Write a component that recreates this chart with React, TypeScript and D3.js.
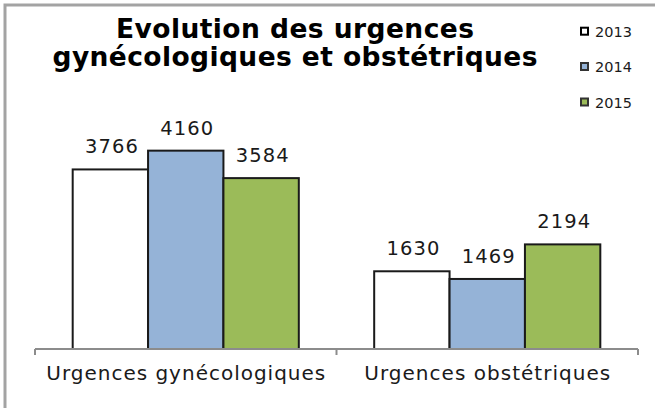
import React from "react";
import * as d3 from "d3";

const categories = ["Urgences gynécologiques", "Urgences obstétriques"];
const series = ["2013", "2014", "2015"];
const values2013 = [3766, 1630];
const values2014 = [4160, 1469];
const values2015 = [3584, 2194];
const seriesValues = [values2013, values2014, values2015];
const colors = ["#ffffff", "#95b3d7", "#9bbb59"];
const titleLines = ["Evolution des urgences", "gynécologiques et obstétriques"];

const W = 655;
const H = 408;

export default function App() {
  const baseY = 349;
  const y = d3.scaleLinear().domain([0, 5000]).range([baseY, baseY - 238.4]);
  const x0 = d3.scaleBand<string>().domain(categories).range([35, 638]).paddingInner(0).paddingOuter(0);
  const bw = x0.bandwidth();
  const side = bw * 0.125;
  const x1 = d3.scaleBand<string>().domain(series).range([side, bw - side]).padding(0);

  const catLabelWidths = [279, 246];
  const titleWidths = [358, 485];
  const titleBaselines = [38, 66];
  const legendY = [31.7, 67, 102.5];

  return (
    <svg width={W} height={H} style={{ position: "absolute", left: 0, top: 0, background: "#fff" }}>
      <rect x={5} y={5} width={W + 20} height={H + 20} fill="#fff" stroke="#a3a3a3" strokeWidth={3} />
      {titleLines.map((t, i) => (
        <text
          key={t}
          x={295}
          y={titleBaselines[i]}
          textAnchor="middle"
          fontFamily="DejaVu Sans, Verdana, sans-serif"
          fontWeight="bold"
          fontSize={26.5}
          fill="#000"
          textLength={titleWidths[i]}
          lengthAdjust="spacing"
        >
          {t}
        </text>
      ))}
      {series.map((s, i) => (
        <g key={s}>
          <rect x={581} y={legendY[i] - 4} width={7} height={7} fill={colors[i]} stroke={i === 0 ? "#000" : "#333"} strokeWidth={2} />
          <text x={595} y={legendY[i] + 5.3} fontFamily="DejaVu Sans, Verdana, sans-serif" fontSize={14.5} fill="#1a1a1a">
            {s}
          </text>
        </g>
      ))}
      {categories.map((c, ci) => (
        <g key={c} transform={`translate(${x0(c)},0)`}>
          {series.map((s, si) => {
            const v = seriesValues[si][ci];
            const bx = x1(s)!;
            return (
              <g key={s}>
                <rect
                  x={bx}
                  y={y(v)}
                  width={x1.bandwidth()}
                  height={baseY - y(v)}
                  fill={colors[si]}
                  stroke="#1a1a1a"
                  strokeWidth={2}
                />
                <text
                  x={bx + x1.bandwidth() / 2 + 1}
                  y={y(v) - 16}
                  textAnchor="middle"
                  fontFamily="DejaVu Sans, Verdana, sans-serif"
                  fontSize={19.5}
                  fill="#1a1a1a"
                  textLength={53}
                  lengthAdjust="spacing"
                >
                  {v}
                </text>
              </g>
            );
          })}
        </g>
      ))}
      <line x1={35} x2={638} y1={baseY} y2={baseY} stroke="#8c8c8c" strokeWidth={2} />
      {[...categories.map((c) => x0(c)!), 638].map((tx, i) => (
        <line key={i} x1={tx} x2={tx} y1={baseY} y2={baseY + 6} stroke="#8c8c8c" strokeWidth={2} />
      ))}
      {categories.map((c, i) => (
        <text
          key={c}
          x={x0(c)! + bw / 2}
          y={380}
          textAnchor="middle"
          fontFamily="DejaVu Sans, Verdana, sans-serif"
          fontSize={20}
          fill="#1a1a1a"
          textLength={catLabelWidths[i]}
          lengthAdjust="spacing"
        >
          {c}
        </text>
      ))}
    </svg>
  );
}
